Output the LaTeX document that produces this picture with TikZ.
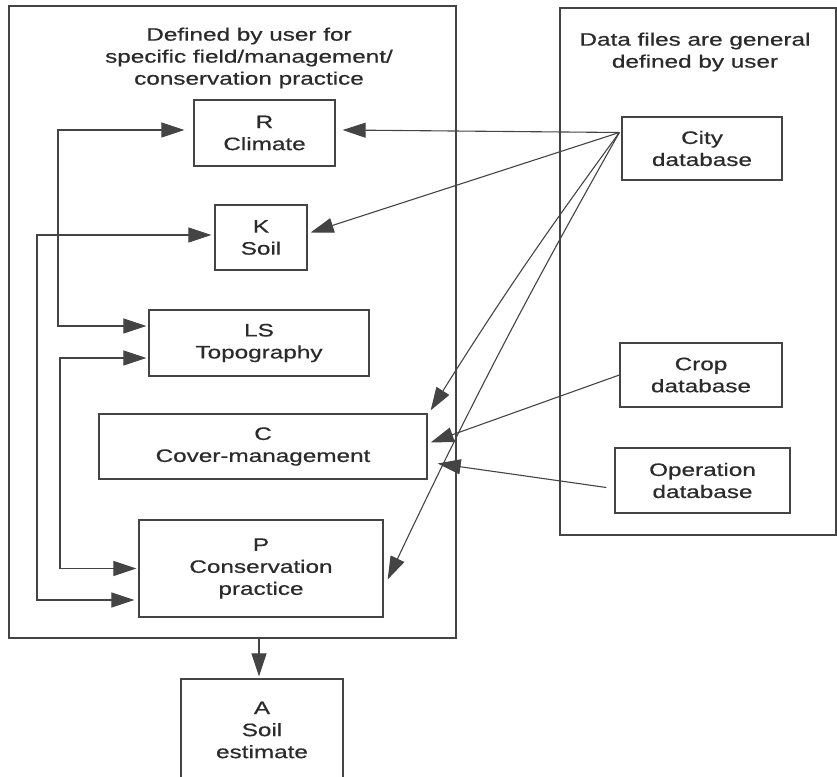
\documentclass[tikz,border=0pt]{standalone}
\usepackage{fontspec}
\setmainfont{Liberation Sans}[FakeStretch=1.35,FakeBold=0.6]
\usetikzlibrary{arrows.meta}
\definecolor{linec}{HTML}{444444}
\definecolor{textc}{HTML}{2B2B2B}
\begin{document}
\begin{tikzpicture}[x=1pt,y=-1pt,
  box/.style={draw=linec, line width=1.3pt, inner sep=0pt, align=center, text=textc,
    font=\fontsize{18}{22}\selectfont},
  lbl/.style={inner sep=0pt, align=center, text=textc, font=\fontsize{18}{22}\selectfont},
  frame/.style={draw=linec, line width=1.3pt, inner sep=0pt},
  tip/.tip={Triangle[length=23pt,width=15pt]},
  conn/.style={draw=linec, line width=1.1pt, -tip},
  conntwo/.style={draw=linec, line width=1.1pt, tip-tip}]
\useasboundingbox (0,0) rectangle (837,776);
% frames
\node[frame, minimum width=447pt, minimum height=632pt] (lf) at (232.5,322) {};
\node[frame, minimum width=276pt, minimum height=527pt] (rf) at (698,271.5) {};
% titles
\node[lbl] (t1) at (249,58) {Defined by user for\\specific field/management/\\conservation practice};
\node[lbl] (t2) at (695,52) {Data files are general\\defined by user};
% factor boxes
\node[box, minimum width=141pt, minimum height=66pt] (R) at (264.5,133) {R\\Climate};
\node[box, minimum width=92pt, minimum height=65pt] (K) at (261,237.5) {K\\Soil};
\node[box, minimum width=220pt, minimum height=66pt] (LS) at (259,343) {LS\\Topography};
\node[box, minimum width=328pt, minimum height=65pt] (C) at (263,446.5) {C\\Cover-management};
\node[box, minimum width=244pt, minimum height=97pt] (P) at (261,568.5) {P\\Conservation\\practice};
\node[box, minimum width=162pt, minimum height=102pt] (A) at (262,730) {A\\Soil\\estimate};
% databases
\node[box, minimum width=160pt, minimum height=63pt] (city) at (702,148.5) {City\\database};
\node[box, minimum width=162pt, minimum height=64pt] (crop) at (701,375) {Crop\\database};
\node[box, minimum width=175pt, minimum height=65pt] (op) at (702.5,480.5) {Operation\\database};
% left-side connectors
\coordinate (v1) at (58,0);
\coordinate (v2) at (37,0);
\coordinate (v3) at (60,0);
\coordinate (r1) at ([xshift=-9pt,yshift=3pt]R.west);
\coordinate (l1) at ([xshift=-2pt,yshift=17pt]LS.west);
\coordinate (k1) at ([xshift=-3pt,yshift=2.5pt]K.west);
\coordinate (p1) at ([xshift=-4pt,yshift=-31.5pt]P.west);
\coordinate (l2) at ([xshift=-2pt,yshift=-15pt]LS.west);
\coordinate (p2) at ([xshift=-2pt]P.west);
\draw[conntwo] (r1) -- (r1 -| v1) -- (l1 -| v1) -- (l1);
\draw[conntwo] (k1) -- (k1 -| v2) -- (p1 -| v2) -- (p1);
\draw[conntwo] (l2) -- (l2 -| v3) -- (p2 -| v3) -- (p2);
% output arrow
\coordinate (ax) at (259,0);
\draw[conn] (lf.south -| ax) -- ([yshift=2pt]A.north -| ax);
% right-side connectors
\coordinate (cs) at ([xshift=-2pt,yshift=16pt]city.west);
\draw[conn] (cs) -- ([xshift=7pt,yshift=3pt]R.east);
\draw[conn] (cs) -- ([xshift=3pt,yshift=5pt]K.east);
\draw[conn] (cs) to[bend right=2] ([xshift=3pt,yshift=3pt]C.north east);
\draw[conn] (cs) to[bend right=2] ([xshift=4pt,yshift=-11pt]P.east);
\draw[conn] (crop.west) -- ([xshift=3pt,yshift=4pt]C.east);
\coordinate (os) at ([xshift=-8pt,yshift=-7pt]op.west);
\draw[conn] (os) -- ([xshift=10pt,yshift=-17pt]C.east);
\end{tikzpicture}
\end{document}
